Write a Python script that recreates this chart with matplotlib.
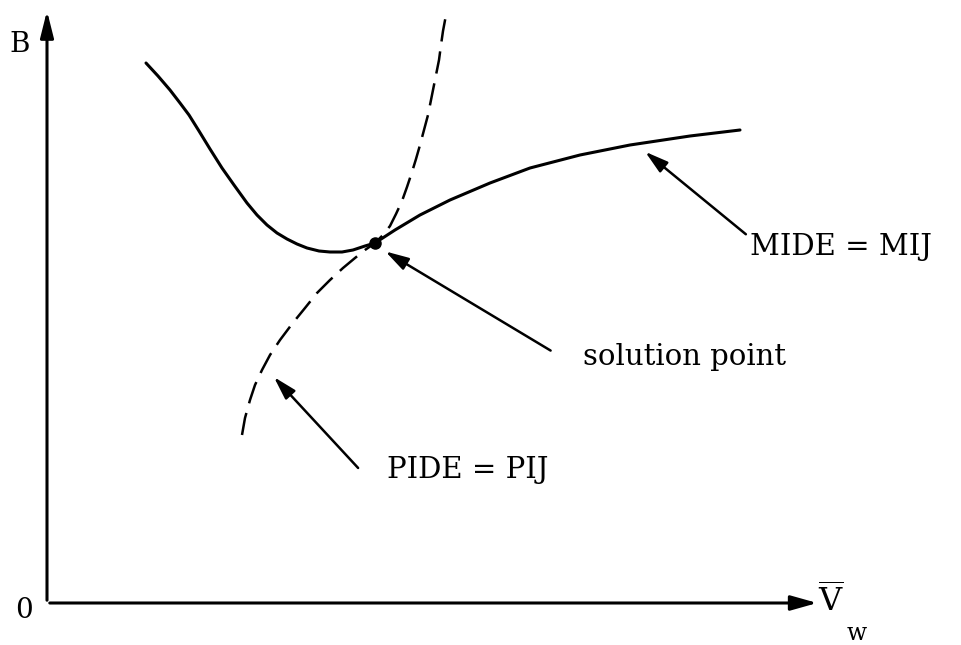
import matplotlib.pyplot as plt
import numpy as np

plt.rcParams["mathtext.fontset"] = "dejavuserif"

# curves, x right from origin, y up from origin (pixel-ish units)
mide_x = [99, 111, 123, 133, 142, 152, 163, 175, 187, 200, 210, 220, 230, 240, 250, 260, 272,
          283, 295, 306, 318, 328, 348, 373, 403, 443, 483, 533, 583, 643, 693]
mide_y = [540, 527, 513, 500, 488, 472, 454, 435, 418, 400, 388, 378, 370, 364, 359, 355, 352,
          351, 351, 353, 357, 360, 373, 388, 403, 420, 435, 448, 458, 467, 473]

pide_x = [195, 198, 203, 208, 215, 223, 233, 245, 258, 270, 283, 296, 308, 318, 328, 336, 343,
          349, 355, 360, 365, 369, 373, 377, 381, 385, 389, 392, 394, 396, 399]
pide_y = [168, 185, 203, 218, 233, 248, 263, 279, 295, 310, 323, 335, 345, 353, 360, 368, 377,
          389, 402, 416, 431, 444, 458, 473, 488, 508, 528, 543, 558, 572, 588]

solution = (328, 360)

labels = ["MIDE = MIJ", "solution point", "PIDE = PIJ"]
label_xy = [(703, 356), (536, 246), (340, 133)]
arrow_head = [(596, 453), (336, 353), (225, 228)]
arrow_tail = [(701, 367), (506, 251), (313, 133)]

fig = plt.figure(figsize=(9.62, 6.45), dpi=100)
ax = fig.add_axes([0, 0, 1, 1])
ax.set_xlim(-47, 915)
ax.set_ylim(-42, 603)
ax.axis("off")

serif = "DejaVu Serif"

# axes with arrows
ax.annotate("", xy=(0, 595), xytext=(0, 0),
            arrowprops=dict(arrowstyle="-|>,head_length=1.6,head_width=0.4", lw=2.2, color="black"))
ax.annotate("", xy=(773, 0), xytext=(0, 0),
            arrowprops=dict(arrowstyle="-|>,head_length=1.6,head_width=0.45", lw=2.2, color="black"))

ax.plot(mide_x, mide_y, color="black", lw=2.2, solid_capstyle="round", solid_joinstyle="round")
ax.plot(pide_x, pide_y, color="black", lw=1.8, linestyle=(0, (9, 4)), dash_joinstyle="round")
ax.plot(*solution, "o", color="black", ms=8)

for lab, xy, h, t in zip(labels, label_xy, arrow_head, arrow_tail):
    ax.text(xy[0], xy[1], lab, fontsize=21, family=serif, va="center", ha="left")
    ax.annotate("", xy=h, xytext=t,
                arrowprops=dict(arrowstyle="-|>,head_length=1.4,head_width=0.4", lw=1.8, color="black"))

ax.text(-27, 558, "B", fontsize=20, family=serif, ha="center", va="center")
ax.text(-23, -8, "0", fontsize=20, family=serif, ha="center", va="center")
ax.text(771, 2, r"$\overline{\mathrm{V}}$", fontsize=23, ha="left", va="center")
ax.text(800, -30, "w", fontsize=17, family=serif, ha="left", va="center")

fig.savefig("out.png", dpi=100, facecolor="white")
